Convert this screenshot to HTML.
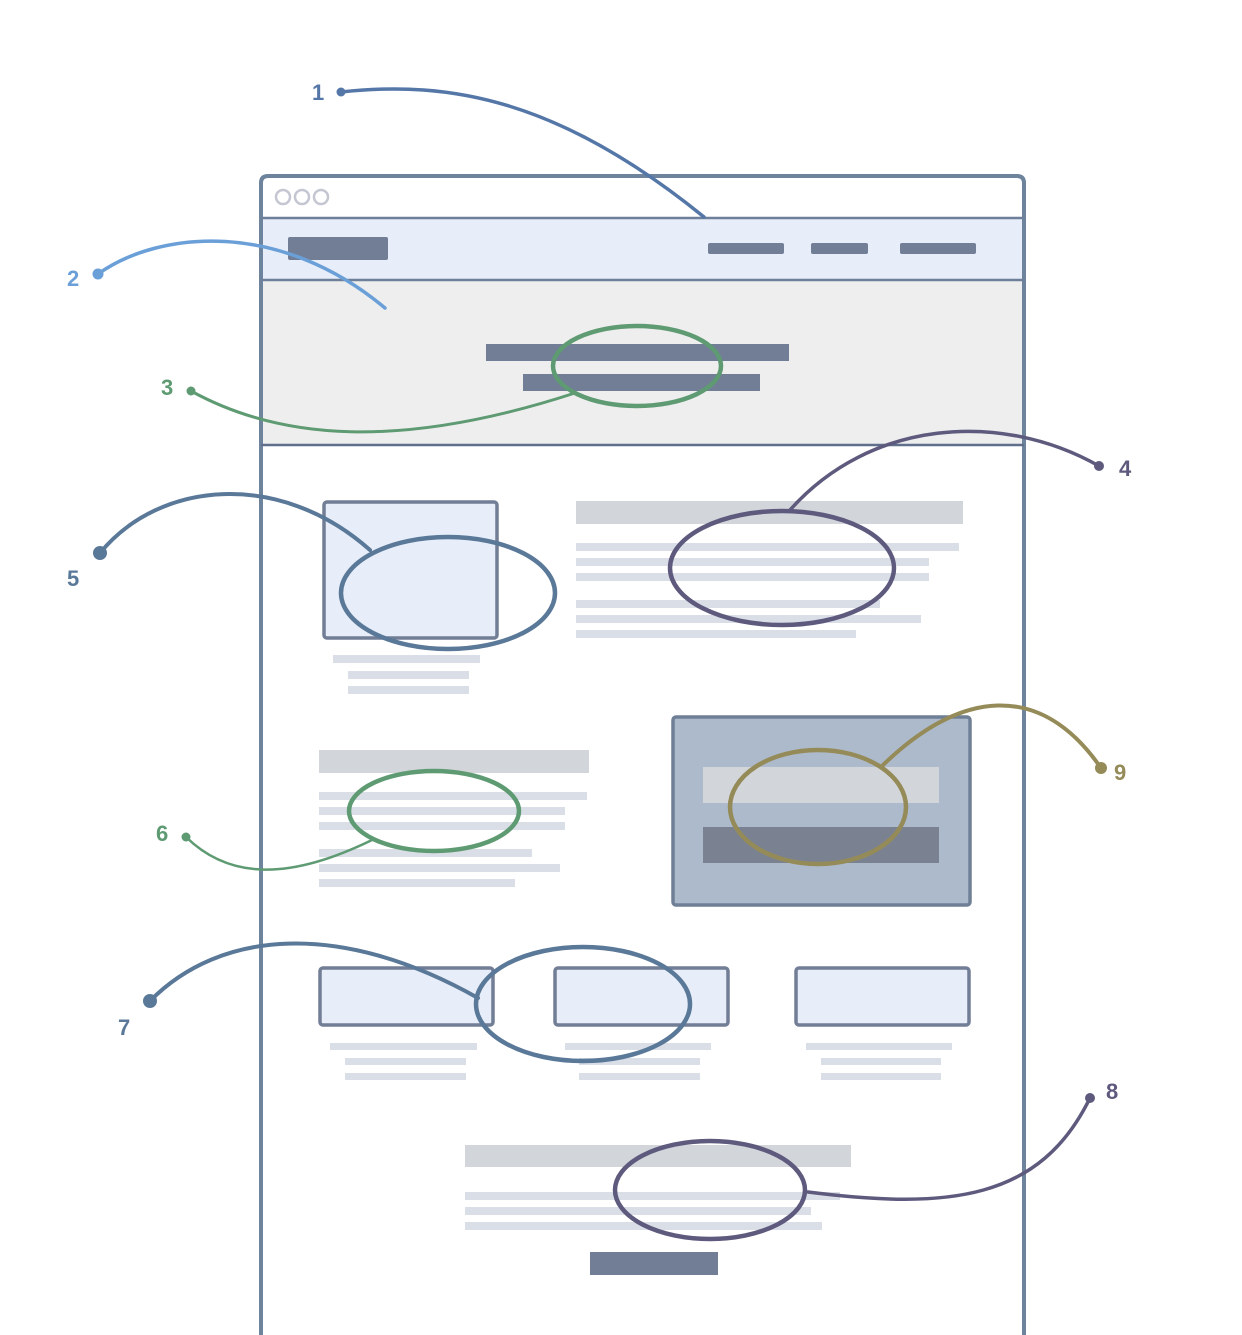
<!DOCTYPE html>
<html><head><meta charset="utf-8"><style>
html,body{margin:0;padding:0;background:#fff;}
svg{display:block;}
text{font-family:"Liberation Sans",sans-serif;font-weight:bold;font-size:22px;}
</style></head><body>
<svg width="1242" height="1335" viewBox="0 0 1242 1335" xmlns="http://www.w3.org/2000/svg">
<!-- browser frame -->
<rect x="261" y="218" width="763" height="62" fill="#e7eef9"/>
<rect x="261" y="280" width="763" height="165" fill="#eeeeee"/>
<path d="M261,1335 V183 Q261,176 268,176 H1017 Q1024,176 1024,183 V1335" fill="none" stroke="#6e849c" stroke-width="4"/>
<line x1="261" y1="218" x2="1024" y2="218" stroke="#6e7f9a" stroke-width="2.5"/>
<line x1="261" y1="280" x2="1024" y2="280" stroke="#6e7f9a" stroke-width="2.5"/>
<line x1="261" y1="445" x2="1024" y2="445" stroke="#5f6f8c" stroke-width="2.5"/>
<g fill="none" stroke="#c4c6d2" stroke-width="2.5">
<circle cx="283" cy="197" r="7"/><circle cx="302" cy="197" r="7"/><circle cx="321" cy="197" r="7"/>
</g>
<g fill="#727d96">
<rect x="288" y="237" width="100" height="23" rx="2"/>
<rect x="708" y="243" width="76" height="11" rx="2"/>
<rect x="811" y="243" width="57" height="11" rx="2"/>
<rect x="900" y="243" width="76" height="11" rx="2"/>
<rect x="486" y="344" width="303" height="17"/>
<rect x="523" y="374" width="237" height="17"/>
<rect x="590" y="1252" width="128" height="23"/>
</g>
<!-- section 1 -->
<rect x="324" y="502" width="173" height="136" rx="3" fill="#e7eef9" stroke="#727d96" stroke-width="3.5"/>
<g fill="#d9dee7">
<rect x="333" y="655" width="147" height="8"/><rect x="348" y="671" width="121" height="8"/><rect x="348" y="686" width="121" height="8"/>
<rect x="576" y="543" width="383" height="8"/><rect x="576" y="558" width="353" height="8"/><rect x="576" y="573" width="353" height="8"/>
<rect x="576" y="600" width="304" height="8"/><rect x="576" y="615" width="345" height="8"/><rect x="576" y="630" width="280" height="8"/>
<rect x="319" y="792" width="268" height="8"/><rect x="319" y="807" width="246" height="8"/><rect x="319" y="822" width="246" height="8"/>
<rect x="319" y="849" width="213" height="8"/><rect x="319" y="864" width="241" height="8"/><rect x="319" y="879" width="196" height="8"/>
<rect x="330" y="1043" width="147" height="7"/><rect x="345" y="1058" width="121" height="7"/><rect x="345" y="1073" width="121" height="7"/>
<rect x="565" y="1043" width="146" height="7"/><rect x="579" y="1058" width="121" height="7"/><rect x="579" y="1073" width="121" height="7"/>
<rect x="806" y="1043" width="146" height="7"/><rect x="821" y="1058" width="120" height="7"/><rect x="821" y="1073" width="120" height="7"/>
<rect x="465" y="1192" width="375" height="8"/><rect x="465" y="1207" width="346" height="8"/><rect x="465" y="1222" width="357" height="8"/>
</g>
<g fill="#d2d5da">
<rect x="576" y="501" width="387" height="23"/>
<rect x="319" y="750" width="270" height="23"/>
<rect x="465" y="1145" width="386" height="22"/>
</g>
<rect x="673" y="717" width="297" height="188" rx="3" fill="#adbacc" stroke="#6e7f96" stroke-width="3.5"/>
<rect x="703" y="767" width="236" height="36" fill="#d2d5da"/>
<rect x="703" y="827" width="236" height="36" fill="#7a8292"/>
<g fill="#e7eef9" stroke="#727d96" stroke-width="3.5">
<rect x="320" y="968" width="173" height="57" rx="3"/>
<rect x="555" y="968" width="173" height="57" rx="3"/>
<rect x="796" y="968" width="173" height="57" rx="3"/>
</g>
<!-- ellipses -->
<g fill="none" stroke-width="4.5">
<ellipse cx="637" cy="366" rx="84" ry="40" stroke="#5e9a72"/>
<ellipse cx="782" cy="568" rx="112" ry="57" stroke="#5d5a7e"/>
<ellipse cx="448" cy="593" rx="107" ry="56" stroke="#5a7898"/>
<ellipse cx="434" cy="811" rx="85" ry="40" stroke="#5e9a72"/>
<ellipse cx="818" cy="807" rx="88" ry="57" stroke="#958b58"/>
<ellipse cx="583" cy="1004" rx="107" ry="57" stroke="#5a7898"/>
<ellipse cx="710" cy="1190" rx="95" ry="49" stroke="#5d5a7e"/>
</g>
<!-- callouts -->
<g fill="none" stroke-linecap="round">
<path d="M341,92 C450,80 560,100 704,217" stroke="#5477a8" stroke-width="3.5"/>
<path d="M98,274 C160,230 280,220 385,308" stroke="#6a9fd8" stroke-width="3.5"/>
<path d="M191,391 C280,440 400,450 575,393" stroke="#5e9a72" stroke-width="3"/>
<path d="M1099,466 C1000,410 870,420 790,510" stroke="#5d5a7e" stroke-width="3.5"/>
<path d="M100,553 C160,480 280,470 370,550" stroke="#5a7898" stroke-width="4"/>
<path d="M186,837 C230,880 290,880 372,840" stroke="#5e9a72" stroke-width="2.5"/>
<path d="M150,1001 C220,930 340,920 478,998" stroke="#5a7898" stroke-width="4"/>
<path d="M1090,1098 C1040,1200 950,1210 808,1192" stroke="#5d5a7e" stroke-width="3.5"/>
<path d="M1101,768 C1040,680 960,690 882,766" stroke="#958b58" stroke-width="4"/>
</g>
<circle cx="341" cy="92" r="4.5" fill="#5477a8"/>
<circle cx="98" cy="274" r="5.5" fill="#6a9fd8"/>
<circle cx="191" cy="391" r="4.5" fill="#5e9a72"/>
<circle cx="1099" cy="466" r="5" fill="#5d5a7e"/>
<circle cx="100" cy="553" r="7" fill="#5a7898"/>
<circle cx="186" cy="837" r="4.5" fill="#5e9a72"/>
<circle cx="150" cy="1001" r="7" fill="#5a7898"/>
<circle cx="1090" cy="1098" r="5" fill="#5d5a7e"/>
<circle cx="1101" cy="768" r="6" fill="#958b58"/>
<text x="312" y="100" fill="#5477a8">1</text>
<text x="67" y="286" fill="#6a9fd8">2</text>
<text x="161" y="395" fill="#5e9a72">3</text>
<text x="1119" y="476" fill="#5d5a7e">4</text>
<text x="67" y="586" fill="#5a7898">5</text>
<text x="156" y="841" fill="#5e9a72">6</text>
<text x="118" y="1035" fill="#5a7898">7</text>
<text x="1106" y="1099" fill="#5d5a7e">8</text>
<text x="1114" y="780" fill="#958b58">9</text>
</svg>
</body></html>
